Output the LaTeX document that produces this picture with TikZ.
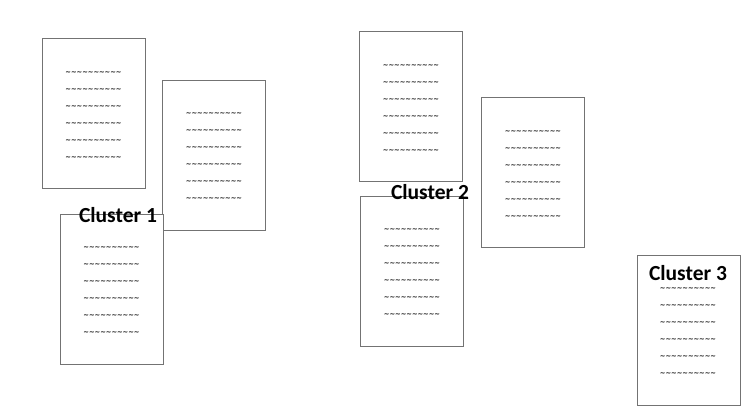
\documentclass[tikz,border=0pt]{standalone}
\usepackage{fontspec}
\setmainfont{Carlito}
\newfontfamily\tildefont{DejaVu Sans}
\newcommand{\tline}{{\tildefont\bfseries\fontsize{6.7}{17}\selectfont \textasciitilde\textasciitilde\textasciitilde\textasciitilde\textasciitilde\textasciitilde\textasciitilde\textasciitilde\textasciitilde\textasciitilde}}
\newcommand{\tblock}{\tline\\\tline\\\tline\\\tline\\\tline\\\tline}
\begin{document}
\begin{tikzpicture}[x=1pt,y=-1pt,
  docbox/.style={draw=black!55,line width=0.8pt,fill=white,rectangle,inner sep=0pt,
    minimum width=103pt,minimum height=150pt},
  tblk/.style={inner sep=0pt,align=center,font=\fontsize{6.7}{17}\selectfont},
  clabel/.style={font=\bfseries\fontsize{21.5}{21.5}\selectfont,inner sep=0pt}]
\useasboundingbox (0,0) rectangle (750,405);
\fill[white] (0,0) rectangle (750,405);
% cluster 1
\node[docbox] (a) at (93.5,113) {};
\node[tblk] (ta) at (93.5,116) {\tblock};
\node[docbox] (b) at (214,155) {};
\node[tblk] (tb) at (214,157) {\tblock};
\node[docbox] (c) at (111.5,289) {};
\node[tblk] (tc) at (111.5,290.5) {\tblock};
\node[clabel] (l1) at (118,215) {Cluster 1};
% cluster 2
\node[docbox] (d) at (411,106) {};
\node[tblk] (td) at (411,108.5) {\tblock};
\node[docbox] (e) at (412,271) {};
\node[tblk] (te) at (412,273) {\tblock};
\node[docbox] (f) at (533,172) {};
\node[tblk] (tf) at (533,174.5) {\tblock};
\node[clabel] (l2) at (430,192) {Cluster 2};
% cluster 3
\node[docbox] (g) at (689,330) {};
\node[tblk] (tg) at (688,332) {\tblock};
\node[clabel] (l3) at (688,273) {Cluster 3};
\end{tikzpicture}
\end{document}
